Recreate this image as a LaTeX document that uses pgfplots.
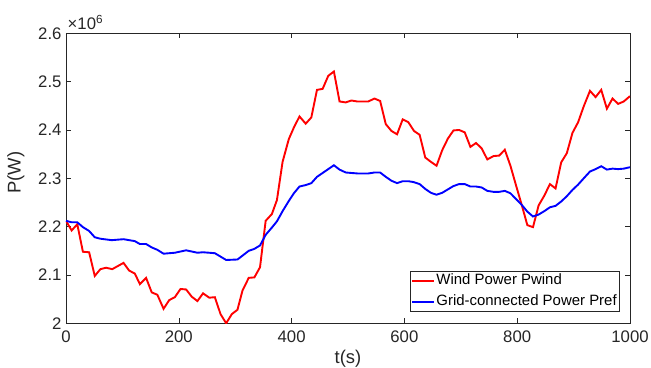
\documentclass[border=0pt]{standalone}
\usepackage{pgfplots}
\pgfplotsset{compat=1.18}
\usepackage{fontspec}
\setmainfont{Liberation Sans}
\definecolor{axgray}{RGB}{38,38,38}
\begin{document}
\begin{tikzpicture}
\begin{axis}[
  at={(0,0)}, anchor=south west,
  scale only axis, width=564bp, height=290bp,
  xmin=0, xmax=1000, ymin=2, ymax=2.6,
  xtick={0,200,400,600,800,1000},
  ytick={2,2.1,2.2,2.3,2.4,2.5,2.6},
  xtick pos=both, ytick pos=both,
  tick align=inside,
  major tick length=5bp,
  every tick/.style={axgray, line width=0.5pt},
  axis line style={axgray, line width=0.6pt},
  /pgf/number format/assume math mode=true,
  xticklabel style={/pgf/number format/1000 sep={}, yshift=-4bp},
  yticklabel style={/pgf/number format/fixed, /pgf/number format/precision=1, xshift=-1bp},
  tick label style={font=\fontsize{16.8}{19}\selectfont, text=axgray},
  xlabel={t(s)}, ylabel={P(W)},
  label style={font=\fontsize{18.5}{21}\selectfont, text=axgray},
  x label style={at={(axis description cs:0.5,-0.123)}, anchor=center},
  y label style={at={(axis description cs:-0.0887,0.52)}, anchor=center},
  legend cell align=left,
  legend style={at={(axis description cs:0.981,0.040)}, anchor=south east,
    draw=axgray, font=\fontsize{15}{17}\selectfont,
    inner sep=1.2bp, row sep=4.1bp,
    nodes={inner sep=1.2bp, text height=11bp, text depth=3.5bp}},
  legend image code/.code={\draw[#1, line width=2.1pt] (0bp,0bp) -- (22bp,0bp);},
]
\addplot[red, line width=1.9pt] coordinates {
(0,2.212)(10,2.192)(20,2.205)(30,2.148)(41,2.147)(51,2.098)(61,2.112)(71,2.115)(82,2.112)(102,2.125)(112,2.109)(122,2.103)(131,2.081)(142,2.094)(152,2.064)(162,2.059)(173,2.030)(183,2.048)(193,2.054)(203,2.071)(213,2.070)(223,2.055)(233,2.046)(243,2.062)(254,2.053)(264,2.054)(274,2.019)(284,2.000)(294,2.019)(304,2.028)(313,2.068)(324,2.094)(334,2.095)(344,2.116)(354,2.212)(365,2.226)(374,2.255)(384,2.334)(395,2.381)(404,2.405)(414,2.428)(425,2.413)(435,2.426)(445,2.483)(455,2.485)(465,2.512)(475,2.521)(485,2.459)(496,2.457)(506,2.461)(516,2.459)(536,2.459)(547,2.465)(557,2.460)(567,2.412)(577,2.398)(587,2.391)(597,2.422)(607,2.416)(617,2.398)(627,2.390)(637,2.343)(647,2.334)(657,2.326)(667,2.358)(677,2.382)(687,2.399)(697,2.400)(707,2.395)(717,2.365)(727,2.373)(737,2.362)(747,2.339)(758,2.346)(768,2.347)(778,2.359)(788,2.326)(798,2.285)(808,2.245)(818,2.203)(828,2.199)(838,2.244)(848,2.264)(858,2.288)(868,2.279)(878,2.333)(888,2.352)(898,2.394)(908,2.416)(918,2.449)(929,2.481)(939,2.468)(949,2.483)(959,2.444)(969,2.465)(979,2.454)(989,2.459)(1000,2.470)
};
\addlegendentry{Wind Power Pwind}
\addplot[blue, line width=1.9pt] coordinates {
(0,2.212)(10,2.209)(20,2.209)(30,2.199)(41,2.191)(51,2.178)(61,2.175)(81,2.172)(102,2.174)(122,2.170)(131,2.164)(142,2.164)(152,2.157)(162,2.152)(173,2.144)(193,2.146)(213,2.151)(233,2.146)(243,2.147)(264,2.145)(274,2.138)(284,2.131)(304,2.132)(313,2.140)(324,2.150)(334,2.154)(344,2.161)(354,2.183)(365,2.198)(374,2.211)(384,2.232)(395,2.253)(404,2.269)(414,2.283)(425,2.286)(435,2.290)(445,2.303)(455,2.311)(465,2.319)(475,2.327)(485,2.318)(496,2.312)(517,2.310)(536,2.310)(547,2.312)(557,2.312)(567,2.303)(577,2.295)(587,2.290)(597,2.294)(607,2.294)(617,2.292)(627,2.288)(637,2.278)(647,2.270)(657,2.266)(667,2.270)(677,2.277)(687,2.284)(697,2.288)(707,2.288)(717,2.283)(727,2.283)(737,2.281)(747,2.274)(758,2.272)(768,2.272)(778,2.274)(788,2.269)(798,2.257)(808,2.245)(818,2.231)(828,2.221)(838,2.225)(848,2.232)(858,2.240)(868,2.243)(878,2.252)(888,2.263)(898,2.276)(908,2.287)(918,2.300)(929,2.314)(939,2.319)(949,2.325)(959,2.318)(969,2.320)(979,2.319)(989,2.320)(1000,2.323)
};
\addlegendentry{Grid-connected Power Pref}
\end{axis}
\node[anchor=base west, inner sep=0pt, text=axgray, font=\fontsize{16.8}{19}\selectfont] at (1.5bp,294bp) {×10\textsuperscript{6}};
\pgfresetboundingbox
\path (-66bp,-44.7bp) rectangle (585bp,323.3bp);
\end{tikzpicture}
\end{document}
